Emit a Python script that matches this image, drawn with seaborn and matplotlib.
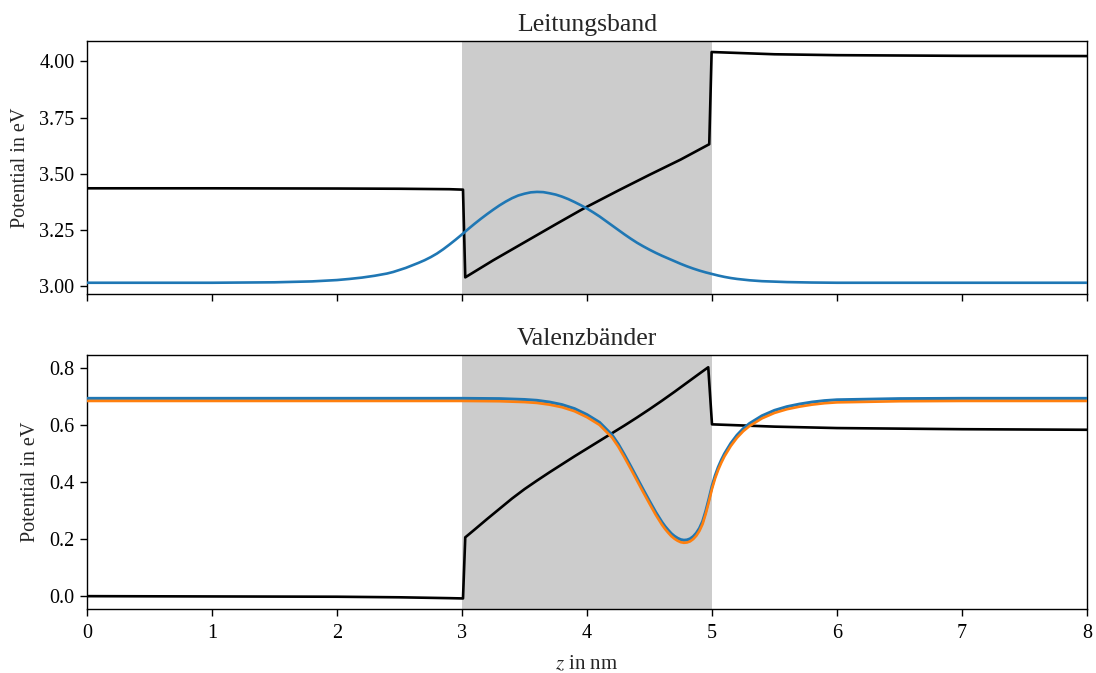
import numpy as np
import pandas as pd
import matplotlib
matplotlib.use("Agg")
import matplotlib.pyplot as plt
import seaborn as sns

# ---------------- data ----------------
# Leitungsband (conduction band), black potential
z_cb_pot = [0.0, 1.0, 2.0, 2.5, 2.9, 3.008, 3.026, 3.25, 3.5, 3.75, 3.95, 4.0,
            4.25, 4.5, 4.75, 4.978, 4.997, 5.5, 6.0, 7.0, 8.0]
cb_pot = [3.436, 3.436, 3.435, 3.434, 3.432, 3.430, 3.040, 3.116, 3.196, 3.276,
          3.339, 3.354, 3.426, 3.496, 3.564, 3.632, 4.042, 4.032, 4.028, 4.025,
          4.024]

# Leitungsband, blue curve
z_cb_wf = [0.0, 1.0, 1.5, 1.8, 1.9, 2.0, 2.1, 2.2, 2.3, 2.4, 2.45, 2.5, 2.55, 2.6,
           2.65, 2.7, 2.75, 2.8, 2.85, 2.9, 2.95, 3.0, 3.05, 3.1,
           3.15, 3.2, 3.25, 3.3, 3.35, 3.4, 3.45, 3.5, 3.55, 3.6,
           3.65, 3.7, 3.75, 3.8, 3.85, 3.9, 3.95, 4.0, 4.05, 4.1,
           4.15, 4.2, 4.25, 4.3, 4.35, 4.4, 4.45, 4.5, 4.55, 4.6,
           4.65, 4.7, 4.75, 4.8, 4.85, 4.9, 4.95, 5.0, 5.05, 5.1,
           5.15, 5.2, 5.3, 5.4, 5.5, 5.6, 5.8, 6.0, 7.0, 8.0]
cb_wf = [3.016, 3.016, 3.018, 3.022, 3.025, 3.028, 3.033, 3.039, 3.047, 3.057, 3.064, 3.073, 3.082, 3.093,
         3.104, 3.116, 3.130, 3.146, 3.165, 3.186, 3.208, 3.231, 3.255, 3.278,
         3.300, 3.321, 3.341, 3.360, 3.377, 3.392, 3.404, 3.412, 3.418, 3.420,
         3.419, 3.414, 3.408, 3.399, 3.388, 3.375, 3.361, 3.346, 3.329, 3.311,
         3.291, 3.271, 3.251, 3.231, 3.212, 3.194, 3.178, 3.163, 3.149, 3.136,
         3.124, 3.112, 3.100, 3.089, 3.079, 3.070, 3.062, 3.055, 3.048, 3.042,
         3.037, 3.033, 3.027, 3.023, 3.021, 3.019, 3.017, 3.016, 3.016, 3.016]

# Valenzbänder (valence bands), black potential
z_vb_pot = [0.0, 1.0, 2.0, 2.5, 2.9, 3.008, 3.026, 3.1, 3.2, 3.3, 3.4, 3.5, 3.6,
            3.7, 3.8, 3.9, 4.0, 4.1, 4.2, 4.3, 4.4, 4.5, 4.6, 4.7, 4.8, 4.9,
            4.97, 5.0, 5.5, 6.0, 7.0, 8.0]
vb_pot = [0.000, -0.001, -0.002, -0.004, -0.007, -0.008, 0.206, 0.233, 0.270,
          0.306, 0.342, 0.375, 0.405, 0.434, 0.462, 0.490, 0.517, 0.544, 0.571,
          0.598, 0.626, 0.655, 0.685, 0.716, 0.748, 0.780, 0.802, 0.602, 0.594,
          0.589, 0.585, 0.583]

# Valenzbänder, two curves (blue, orange)
z_vb_wf = [0.0, 1.0, 2.0, 3.0, 3.3, 3.5, 3.6, 3.7, 3.8, 3.9,
           4.0, 4.1, 4.2, 4.25, 4.3, 4.35, 4.4, 4.45, 4.5, 4.55,
           4.6, 4.625, 4.65, 4.675, 4.7, 4.725, 4.75, 4.775, 4.8, 4.825,
           4.85, 4.875, 4.9, 4.925, 4.95, 4.975, 5.0, 5.025, 5.05, 5.075,
           5.1, 5.15, 5.2, 5.25, 5.3, 5.4, 5.5, 5.6, 5.7, 5.8,
           5.9, 6.0, 6.5, 7.0, 8.0]
vb_wf_1 = [0.693, 0.693, 0.693, 0.693, 0.692, 0.689, 0.686, 0.680, 0.671, 0.657,
           0.636, 0.609, 0.565, 0.533, 0.495, 0.455, 0.414, 0.373, 0.333, 0.294,
           0.259, 0.244, 0.231, 0.219, 0.210, 0.203, 0.198, 0.196, 0.197, 0.201,
           0.209, 0.221, 0.238, 0.262, 0.298, 0.340, 0.385, 0.422, 0.452, 0.477,
           0.499, 0.535, 0.564, 0.587, 0.605, 0.632, 0.651, 0.664, 0.673, 0.680,
           0.685, 0.688, 0.692, 0.693, 0.693]
vb_wf_2 = [0.684, 0.684, 0.684, 0.684, 0.683, 0.680, 0.677, 0.671, 0.662, 0.648,
           0.627, 0.600, 0.556, 0.524, 0.486, 0.446, 0.405, 0.364, 0.324, 0.285,
           0.250, 0.235, 0.222, 0.210, 0.201, 0.194, 0.189, 0.187, 0.188, 0.192,
           0.200, 0.212, 0.229, 0.253, 0.289, 0.331, 0.376, 0.413, 0.443, 0.468,
           0.490, 0.526, 0.555, 0.578, 0.596, 0.623, 0.642, 0.655, 0.664, 0.671,
           0.676, 0.679, 0.683, 0.684, 0.684]

well = (3.0, 5.0)
x_ticks = [0, 1, 2, 3, 4, 5, 6, 7, 8]
cb_ticks = [3.00, 3.25, 3.50, 3.75, 4.00]
cb_ticklabels = ["3.00", "3.25", "3.50", "3.75", "4.00"]
vb_ticks = [0.0, 0.2, 0.4, 0.6, 0.8]
vb_ticklabels = ["0.0", "0.2", "0.4", "0.6", "0.8"]
titles = ["Leitungsband", "Valenzbänder"]
ylabel = "Potential in eV"
xlabel = "$z$ in nm"

# ---------------- style ----------------
sns.set_theme(style="ticks")
plt.rcParams.update({
    "font.family": ["Liberation Serif", "DejaVu Serif"],
    "mathtext.fontset": "stix",
    "axes.linewidth": 1.0,
    "xtick.major.size": 5,
    "ytick.major.size": 5,
    "xtick.major.width": 1.0,
    "ytick.major.width": 1.0,
    "xtick.major.pad": 6,
    "ytick.major.pad": 4,
    "xtick.labelsize": 14.5,
    "ytick.labelsize": 14.5,
    "axes.edgecolor": "black",
    "xtick.color": "black",
    "ytick.color": "black",
})

fig = plt.figure(figsize=(10.96, 6.73), dpi=100)
ax1 = fig.add_axes([87 / 1096, 1 - 294 / 673, 1000 / 1096, 253 / 673])
ax2 = fig.add_axes([87 / 1096, 1 - 609 / 673, 1000 / 1096, 254 / 673], sharex=ax1)

lw = 1.9
blue = "#1f77b4"
orange = "#ff7f0e"

df_cb_pot = pd.DataFrame({"z": z_cb_pot, "V": cb_pot})
df_cb_wf = pd.DataFrame({"z": z_cb_wf, "V": cb_wf})
df_vb_pot = pd.DataFrame({"z": z_vb_pot, "V": vb_pot})
df_vb_wf1 = pd.DataFrame({"z": z_vb_wf, "V": vb_wf_1})
df_vb_wf2 = pd.DataFrame({"z": z_vb_wf, "V": vb_wf_2})

for ax in (ax1, ax2):
    ax.axvspan(*well, color="#cccccc", lw=0, zorder=0)

sns.lineplot(data=df_cb_pot, x="z", y="V", ax=ax1, color="black", lw=lw,
             estimator=None, sort=False, zorder=3)
sns.lineplot(data=df_cb_wf, x="z", y="V", ax=ax1, color=blue, lw=lw,
             estimator=None, sort=False, zorder=3)

sns.lineplot(data=df_vb_pot, x="z", y="V", ax=ax2, color="black", lw=lw,
             estimator=None, sort=False, zorder=3)
sns.lineplot(data=df_vb_wf1, x="z", y="V", ax=ax2, color=blue, lw=lw + 0.3,
             estimator=None, sort=False, zorder=3)
sns.lineplot(data=df_vb_wf2, x="z", y="V", ax=ax2, color=orange, lw=lw,
             estimator=None, sort=False, zorder=4)

ax1.set_xlim(0, 8)
ax1.set_xticks(x_ticks)
ax1.set_ylim(2.966, 4.091)
ax1.set_yticks(cb_ticks)
ax1.set_yticklabels(cb_ticklabels)
ax2.set_ylim(-0.045, 0.845)
ax2.set_yticks(vb_ticks)
ax2.set_yticklabels(vb_ticklabels)

ax1.tick_params(labelbottom=False)
ax1.set_xlabel("")
ax1.set_ylabel(ylabel, fontsize=14.5, labelpad=7)
ax2.set_ylabel(ylabel, fontsize=14.5, labelpad=7)
ax2.set_xlabel(xlabel, fontsize=15, labelpad=8)
ax1.set_title(titles[0], fontsize=18.5, pad=7)
ax2.set_title(titles[1], fontsize=18.5, pad=7)

for ax in (ax1, ax2):
    for s in ax.spines.values():
        s.set_visible(True)
        s.set_color("black")

fig.savefig("out.png", dpi=100)
